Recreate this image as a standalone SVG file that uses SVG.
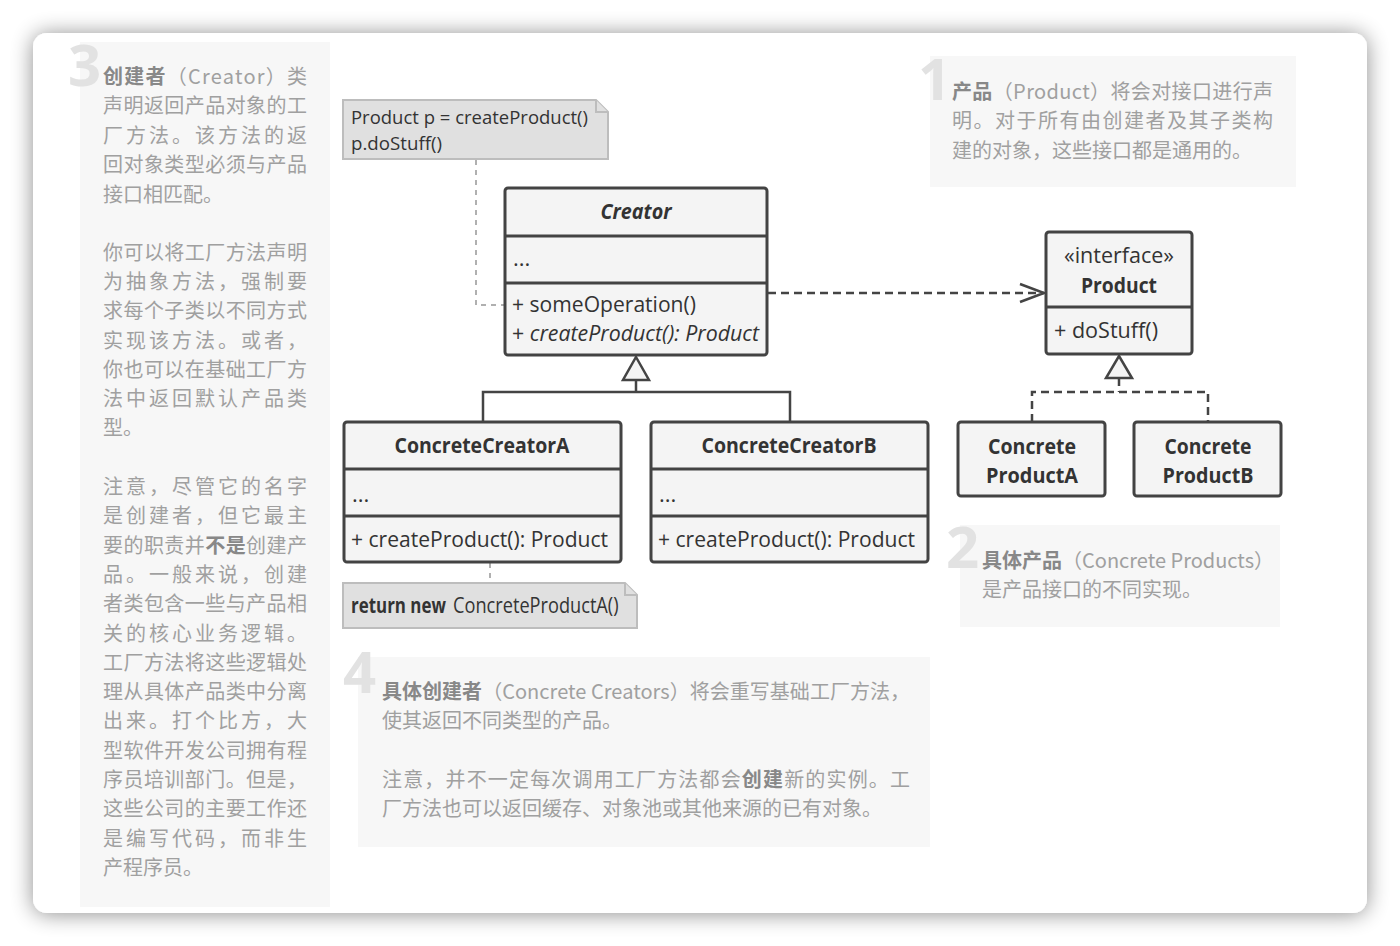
<svg xmlns="http://www.w3.org/2000/svg" width="1400" height="946" viewBox="0 0 1400 946">
<defs>
<filter id="shadow" x="-5%" y="-5%" width="110%" height="110%">
<feGaussianBlur in="SourceAlpha" stdDeviation="11"/>
<feOffset dx="0" dy="1"/>
<feComponentTransfer><feFuncA type="linear" slope="0.45"/></feComponentTransfer>
<feMerge><feMergeNode/><feMergeNode in="SourceGraphic"/></feMerge>
</filter>
<marker id="open" markerWidth="30" markerHeight="24" refX="26" refY="12" orient="auto" markerUnits="userSpaceOnUse">
<path d="M2,3 L26,12 L2,21" fill="none" stroke="#444" stroke-width="2.5"/>
</marker>
</defs>
<style>
.panel{fill:#f7f7f7}
.num{font-family:"Open Sans","Noto Sans",sans-serif;font-weight:700;font-size:58px;fill:#e2e2e2}
.cj{font-family:"Noto Sans CJK SC","Noto Sans",sans-serif;font-size:20px;fill:#a0a0a0}
.cb{font-weight:700;fill:#888}
.box{fill:#f4f4f4;stroke:#434343;stroke-width:3}
.sep{stroke:#434343;stroke-width:3}
.t{font-family:"Open Sans","Noto Sans",sans-serif;font-size:22px;fill:#333}
.n{font-size:19px}
.tb{font-weight:700}
.ti{font-style:italic}
.note{fill:#e0e0e0;stroke:#bdbdbd;stroke-width:2}
.nl{fill:none;stroke:#b0b0b0;stroke-width:2;stroke-dasharray:5 5}
.gen{fill:none;stroke:#444;stroke-width:2.5}
.dash{fill:none;stroke:#444;stroke-width:2.5;stroke-dasharray:8 5}
.tri{fill:#f4f4f4;stroke:#444;stroke-width:2.5}
</style>
<rect width="1400" height="946" fill="#ffffff"/>
<rect x="33" y="33" width="1334" height="880" rx="14" fill="#ffffff" filter="url(#shadow)"/>

<g id="panel-3">
<rect class="panel" x="80" y="42" width="250" height="865"/>
<text class="num" x="68" y="86">3</text>
<text class="cj" x="103" y="84" textLength="204" lengthAdjust="spacing"><tspan class="cb">创建者</tspan>（Creator）类</text>
<text class="cj" x="103" y="113" textLength="204" lengthAdjust="spacing">声明返回产品对象的工</text>
<text class="cj" x="103" y="143" textLength="204" lengthAdjust="spacing">厂方法。该方法的返</text>
<text class="cj" x="103" y="172" textLength="204" lengthAdjust="spacing">回对象类型必须与产品</text>
<text class="cj" x="103" y="202">接口相匹配。</text>
<text class="cj" x="103" y="260" textLength="204" lengthAdjust="spacing">你可以将工厂方法声明</text>
<text class="cj" x="103" y="289" textLength="204" lengthAdjust="spacing">为抽象方法，强制要</text>
<text class="cj" x="103" y="318" textLength="204" lengthAdjust="spacing">求每个子类以不同方式</text>
<text class="cj" x="103" y="348" textLength="204" lengthAdjust="spacing">实现该方法。或者，</text>
<text class="cj" x="103" y="377" textLength="204" lengthAdjust="spacing">你也可以在基础工厂方</text>
<text class="cj" x="103" y="406" textLength="204" lengthAdjust="spacing">法中返回默认产品类</text>
<text class="cj" x="103" y="435">型。</text>
<text class="cj" x="103" y="494" textLength="204" lengthAdjust="spacing">注意，尽管它的名字</text>
<text class="cj" x="103" y="523" textLength="204" lengthAdjust="spacing">是创建者，但它最主</text>
<text class="cj" x="103" y="553" textLength="204" lengthAdjust="spacing">要的职责并<tspan class="cb" fill="#7a7a7a">不是</tspan>创建产</text>
<text class="cj" x="103" y="582" textLength="204" lengthAdjust="spacing">品。一般来说，创建</text>
<text class="cj" x="103" y="611" textLength="204" lengthAdjust="spacing">者类包含一些与产品相</text>
<text class="cj" x="103" y="641" textLength="204" lengthAdjust="spacing">关的核心业务逻辑。</text>
<text class="cj" x="103" y="670" textLength="204" lengthAdjust="spacing">工厂方法将这些逻辑处</text>
<text class="cj" x="103" y="699" textLength="204" lengthAdjust="spacing">理从具体产品类中分离</text>
<text class="cj" x="103" y="728" textLength="204" lengthAdjust="spacing">出来。打个比方，大</text>
<text class="cj" x="103" y="758" textLength="204" lengthAdjust="spacing">型软件开发公司拥有程</text>
<text class="cj" x="103" y="787" textLength="204" lengthAdjust="spacing">序员培训部门。但是，</text>
<text class="cj" x="103" y="816" textLength="204" lengthAdjust="spacing">这些公司的主要工作还</text>
<text class="cj" x="103" y="846" textLength="204" lengthAdjust="spacing">是编写代码，而非生</text>
<text class="cj" x="103" y="875">产程序员。</text>
</g>

<g id="panel-1">
<rect class="panel" x="930" y="56" width="366" height="131"/>
<text class="num" x="918" y="100">1</text>
<text class="cj" x="952" y="99" textLength="321" lengthAdjust="spacing"><tspan class="cb">产品</tspan>（Product）将会对接口进行声</text>
<text class="cj" x="952" y="128" textLength="321" lengthAdjust="spacing">明。对于所有由创建者及其子类构</text>
<text class="cj" x="952" y="158">建的对象，这些接口都是通用的。</text>
</g>

<g id="panel-2">
<rect class="panel" x="960" y="525" width="320" height="102"/>
<text class="num" x="946" y="568">2</text>
<text class="cj" x="982" y="568"><tspan class="cb">具体产品</tspan>（Concrete Products）</text>
<text class="cj" x="982" y="597">是产品接口的不同实现。</text>
</g>

<g id="panel-4">
<rect class="panel" x="358" y="657" width="572" height="190"/>
<text class="num" x="343" y="693">4</text>
<text class="cj" x="382" y="699" textLength="528" lengthAdjust="spacing"><tspan class="cb">具体创建者</tspan>（Concrete Creators）将会重写基础工厂方法，</text>
<text class="cj" x="382" y="728">使其返回不同类型的产品。</text>
<text class="cj" x="382" y="787" textLength="528" lengthAdjust="spacing">注意，并不一定每次调用工厂方法都会<tspan class="cb">创建</tspan>新的实例。工</text>
<text class="cj" x="382" y="816">厂方法也可以返回缓存、对象池或其他来源的已有对象。</text>
</g>

<g id="connectors">
<path class="nl" d="M476,160 V305 H504"/>
<path class="nl" d="M490,563 V583"/>
<path class="dash" d="M768,293 H1044" marker-end="url(#open)"/>
<path class="gen" d="M636,380 V392 M483,422 V392 H790 V422"/>
<path class="tri" d="M636,357 L649,380 L623,380 Z"/>
<path class="dash" d="M1119,378 V392 M1032,422 V392 H1208 V422"/>
<path class="tri" d="M1119,356 L1132,378 L1106,378 Z"/>
</g>

<g id="note-client">
<path class="note" d="M343,100 H596 L608,112 V159 H343 Z"/>
<path class="note" d="M596,100 V112 H608" fill="none"/>
<text class="t n" x="351" y="124" textLength="237" lengthAdjust="spacingAndGlyphs">Product p = createProduct()</text>
<text class="t n" x="351" y="150" textLength="91" lengthAdjust="spacingAndGlyphs">p.doStuff()</text>
</g>

<g id="creator">
<rect class="box" x="505" y="188" width="262" height="167" rx="3"/>
<line class="sep" x1="505" y1="236" x2="767" y2="236"/>
<line class="sep" x1="505" y1="283" x2="767" y2="283"/>
<text class="t tb ti" x="636" y="219" text-anchor="middle" textLength="71" lengthAdjust="spacingAndGlyphs">Creator</text>
<text class="t" x="513" y="266">...</text>
<text class="t" x="512" y="312" textLength="184" lengthAdjust="spacingAndGlyphs">+ someOperation()</text>
<text class="t" x="512" y="341" textLength="247" lengthAdjust="spacingAndGlyphs">+ <tspan class="ti">createProduct(): Product</tspan></text>
</g>

<g id="concrete-creator-a">
<rect class="box" x="344" y="422" width="277" height="140" rx="3"/>
<line class="sep" x1="344" y1="469" x2="621" y2="469"/>
<line class="sep" x1="344" y1="516" x2="621" y2="516"/>
<text class="t tb" x="482" y="453" text-anchor="middle" textLength="175" lengthAdjust="spacingAndGlyphs">ConcreteCreatorA</text>
<text class="t" x="352" y="502">...</text>
<text class="t" x="351" y="547" textLength="257" lengthAdjust="spacingAndGlyphs">+ createProduct(): Product</text>
</g>

<g id="concrete-creator-b">
<rect class="box" x="651" y="422" width="277" height="140" rx="3"/>
<line class="sep" x1="651" y1="469" x2="928" y2="469"/>
<line class="sep" x1="651" y1="516" x2="928" y2="516"/>
<text class="t tb" x="789" y="453" text-anchor="middle" textLength="175" lengthAdjust="spacingAndGlyphs">ConcreteCreatorB</text>
<text class="t" x="659" y="502">...</text>
<text class="t" x="658" y="547" textLength="257" lengthAdjust="spacingAndGlyphs">+ createProduct(): Product</text>
</g>

<g id="note-return">
<path class="note" d="M343,583 H625 L637,595 V628 H343 Z"/>
<path class="note" d="M625,583 V595 H637" fill="none"/>
<text class="t tb" font-size="20" transform="translate(351,613) scale(0.84,1)" x="0" y="0" textLength="113" lengthAdjust="spacingAndGlyphs">return new</text>
<text class="t" font-size="20" transform="translate(453,613) scale(0.9,1)" x="0" y="0" textLength="184" lengthAdjust="spacingAndGlyphs">ConcreteProductA()</text>
</g>

<g id="product">
<rect class="box" x="1046" y="232" width="146" height="122" rx="3"/>
<line class="sep" x1="1046" y1="307" x2="1192" y2="307"/>
<text class="t" x="1119" y="263" text-anchor="middle" textLength="110" lengthAdjust="spacingAndGlyphs">«interface»</text>
<text class="t tb" x="1119" y="293" text-anchor="middle" textLength="76" lengthAdjust="spacingAndGlyphs">Product</text>
<text class="t" x="1054" y="338" textLength="104" lengthAdjust="spacingAndGlyphs">+ doStuff()</text>
</g>

<g id="concrete-product-a">
<rect class="box" x="958" y="422" width="147" height="74" rx="3"/>
<text class="t tb" x="1032" y="454" text-anchor="middle" textLength="88" lengthAdjust="spacingAndGlyphs">Concrete</text>
<text class="t tb" x="1032" y="483" text-anchor="middle" textLength="92" lengthAdjust="spacingAndGlyphs">ProductA</text>
</g>

<g id="concrete-product-b">
<rect class="box" x="1134" y="422" width="147" height="74" rx="3"/>
<text class="t tb" x="1208" y="454" text-anchor="middle" textLength="87" lengthAdjust="spacingAndGlyphs">Concrete</text>
<text class="t tb" x="1208" y="483" text-anchor="middle" textLength="91" lengthAdjust="spacingAndGlyphs">ProductB</text>
</g>
</svg>
